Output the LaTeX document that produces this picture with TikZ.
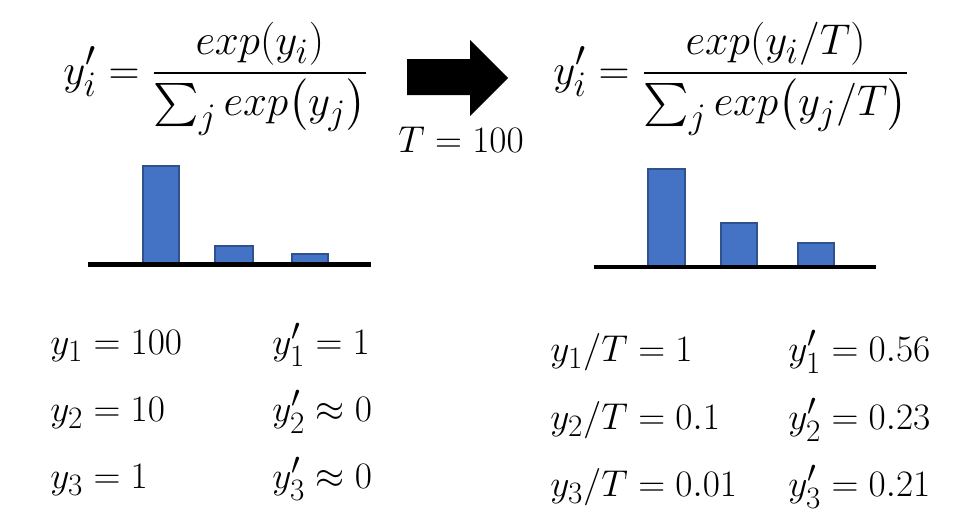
\documentclass[tikz,border=0pt]{standalone}
\usepackage{amsmath}
\definecolor{barfill}{HTML}{4472C4}
\definecolor{barline}{HTML}{2F528F}
\tikzset{
  bigf/.style={inner sep=0pt, font=\Huge, scale=1.73, transform shape},
  smallf/.style={inner sep=0pt, font=\Huge, scale=1.5, transform shape, anchor=base west},
  bar/.style={fill=barfill, draw=barline, line width=1.8pt},
  axisline/.style={line width=4.5pt, black},
}
\begin{document}
\begin{tikzpicture}[x=1pt,y=-1pt]
\useasboundingbox (0,0) rectangle (969,528);
% formulas
\node[bigf, anchor=base west] (f1) at (63,84) {$\displaystyle y_i'=\frac{exp(y_i)}{{\textstyle\sum_j}\, exp\bigl(y_j\bigr)}$};
\node[bigf, anchor=base west] (f2) at (553,84) {$\displaystyle y_i'=\frac{exp(y_i/T)}{{\textstyle\sum_j}\, exp\bigl(y_j/T\bigr)}$};
% arrow
\fill[black] (407,59) -- (470,59) -- (470,40) -- (508,78) -- (470,116) -- (470,95) -- (407,95) -- cycle;
\node[smallf, anchor=base] (t) at (461,152) {$T=100$};
% left bars
\draw[bar] (143,264) rectangle (179,166);
\draw[bar] (215,264) rectangle (253,246);
\draw[bar] (292,264) rectangle (328,254);
\draw[axisline] (88,264.5) -- (371,264.5);
% right bars
\draw[bar] (648,267) rectangle (685,169);
\draw[bar] (721,267) rectangle (757,223);
\draw[bar] (798,267) rectangle (834,243);
\draw[axisline] (594,267) -- (876,267);
% left values
\node[smallf] (a1) at (50,354) {$y_1=100$};
\node[smallf] (a2) at (50,421) {$y_2=10$};
\node[smallf] (a3) at (50,488) {$y_3=1$};
\node[smallf] (b1) at (272,354) {$y_1'=1$};
\node[smallf] (b2) at (272,421) {$y_2'\approx 0$};
\node[smallf] (b3) at (272,488) {$y_3'\approx 0$};
% right values
\node[smallf] (c1) at (550,361) {$y_1/T=1$};
\node[smallf] (c2) at (550,429) {$y_2/T=0.1$};
\node[smallf] (c3) at (550,496) {$y_3/T=0.01$};
\node[smallf] (d1) at (788,361) {$y_1'=0.56$};
\node[smallf] (d2) at (788,429) {$y_2'=0.23$};
\node[smallf] (d3) at (788,496) {$y_3'=0.21$};
\end{tikzpicture}
\end{document}
